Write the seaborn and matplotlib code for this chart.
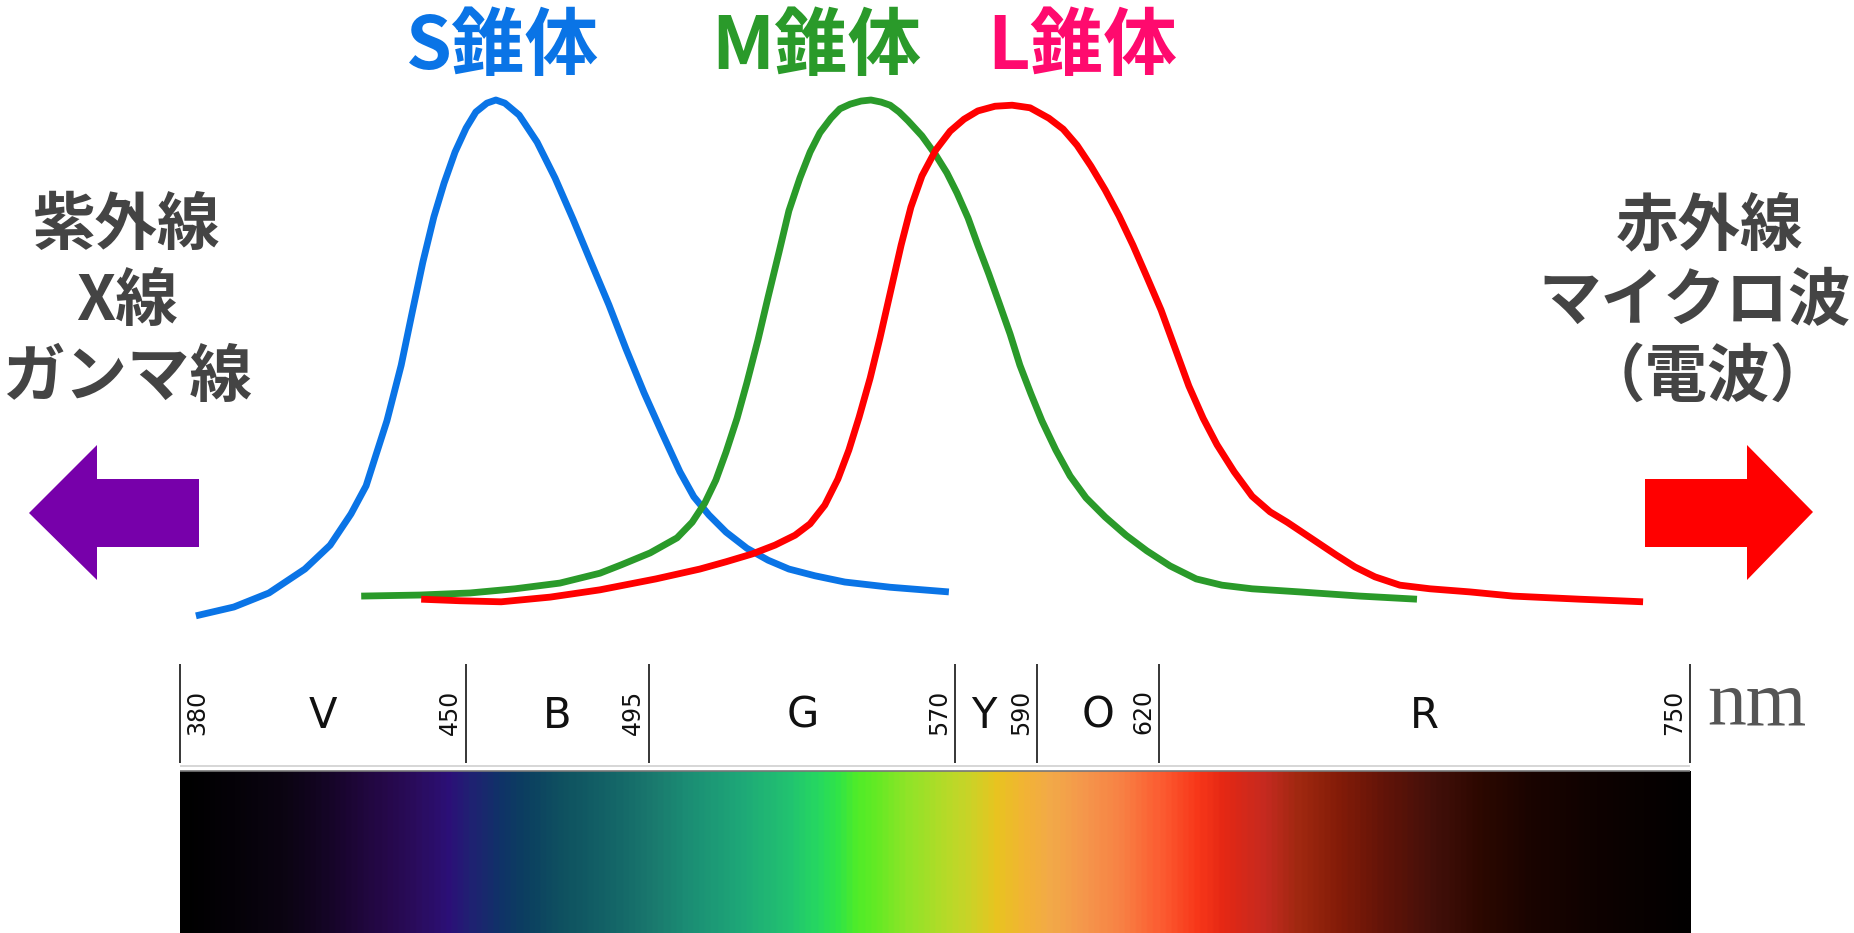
import numpy as np
import pandas as pd
import matplotlib
matplotlib.use("Agg")
import matplotlib.pyplot as plt
import matplotlib.transforms as mtransforms
from matplotlib.patches import Polygon
from matplotlib.colors import LinearSegmentedColormap
import seaborn as sns

# --- cone sensitivity curves (wavelength in nm, relative sensitivity) ---
S_NM = [383.9, 393.2, 401.8, 410.6, 416.8, 421.9, 425.6, 428.0, 430.7, 434.2,
        436.8, 439.5, 442.2, 444.7, 447.4, 450.1, 452.5, 455.2, 457.4, 459.6,
        463.1, 467.5, 471.9, 476.3, 480.7, 485.1, 489.3, 493.7, 498.1, 502.5,
        505.9, 509.6, 513.8, 518.9, 524.1, 529.2, 535.6, 542.9, 554.0, 568.4]
S_SENS = [0.008, 0.025, 0.052, 0.098, 0.144, 0.204, 0.258, 0.317, 0.383, 0.490,
          0.588, 0.688, 0.775, 0.840, 0.900, 0.946, 0.977, 0.994, 1.000, 0.994,
          0.971, 0.919, 0.850, 0.771, 0.688, 0.606, 0.521, 0.437, 0.360, 0.285,
          0.237, 0.202, 0.169, 0.138, 0.115, 0.098, 0.085, 0.073, 0.063, 0.054]

M_NM = [424.4, 438.8, 451.1, 462.1, 473.1, 482.9, 488.1, 495.2, 501.8, 505.5,
        508.6, 511.3, 513.8, 516.5, 518.9, 521.6, 524.1, 526.8, 529.2, 531.9,
        534.4, 536.8, 539.5, 541.7, 544.2, 546.9, 549.3, 551.8, 554.0, 556.2,
        558.4, 561.8, 565.2, 567.9, 570.4, 573.1, 575.5, 578.2, 580.7, 583.4,
        585.8, 588.5, 591.2, 594.6, 598.1, 602.0, 606.7, 611.8, 616.9, 622.6,
        629.0, 635.3, 642.7, 654.4, 669.1, 683.1]
M_SENS = [0.046, 0.048, 0.052, 0.060, 0.071, 0.090, 0.106, 0.129, 0.158, 0.188,
          0.225, 0.269, 0.323, 0.388, 0.456, 0.538, 0.621, 0.708, 0.787, 0.850,
          0.900, 0.937, 0.965, 0.983, 0.992, 0.998, 1.000, 0.996, 0.990, 0.977,
          0.960, 0.931, 0.894, 0.860, 0.821, 0.773, 0.721, 0.665, 0.610, 0.550,
          0.490, 0.435, 0.383, 0.327, 0.277, 0.235, 0.198, 0.163, 0.133, 0.104,
          0.079, 0.067, 0.060, 0.054, 0.046, 0.040]

L_NM = [439.1, 448.6, 458.7, 470.7, 482.9, 496.6, 507.4, 513.8, 520.2, 525.8,
        530.7, 534.4, 538.0, 541.2, 543.9, 546.4, 549.1, 551.5, 554.2, 556.7,
        559.1, 561.8, 565.2, 568.7, 572.1, 575.5, 579.7, 583.9, 588.3, 592.9,
        596.4, 599.8, 603.2, 606.7, 610.1, 613.5, 616.9, 620.4, 623.8, 627.2,
        630.7, 634.1, 638.3, 642.7, 647.1, 651.3, 657.4, 663.3, 667.9, 672.8,
        678.9, 686.3, 696.1, 706.6, 723.0, 738.5]
L_SENS = [0.040, 0.037, 0.035, 0.044, 0.058, 0.079, 0.098, 0.112, 0.127, 0.144,
          0.163, 0.185, 0.221, 0.271, 0.327, 0.390, 0.465, 0.542, 0.635, 0.721,
          0.794, 0.854, 0.904, 0.940, 0.963, 0.979, 0.988, 0.990, 0.985, 0.965,
          0.944, 0.913, 0.873, 0.827, 0.777, 0.721, 0.660, 0.596, 0.523, 0.450,
          0.388, 0.337, 0.285, 0.238, 0.208, 0.188, 0.156, 0.125, 0.102, 0.083,
          0.067, 0.060, 0.054, 0.046, 0.040, 0.035]

CONES = ["S錐体", "M錐体", "L錐体"]

# --- visible spectrum bands ---
BOUNDARIES = [380, 450, 495, 570, 590, 620, 750]
BAND_LABELS = ["V", "B", "G", "Y", "O", "R"]

SPECTRUM_NM = [380.0, 392.3, 404.5, 412.6, 420.9, 429.0, 437.1, 445.4, 451.0, 457.7,
               464.0, 473.8, 486.1, 495.9, 503.3, 517.2, 529.5, 536.1, 541.0, 545.9,
               550.8, 558.1, 566.2, 572.8, 580.2, 586.6, 593.2, 601.3, 611.1, 620.9,
               629.4, 635.6, 646.3, 654.4, 664.2, 674.8, 687.0, 699.3, 711.5, 727.9,
               750.0]
SPECTRUM_HEX = ["#000000", "#050208", "#0b0412", "#120520", "#1c0634", "#250848",
                "#2a0c5c", "#2c1078", "#1f2272", "#103268", "#0c3f60", "#0f5260",
                "#146668", "#1a7a6e", "#1b8c74", "#1ea878", "#22c470", "#26d860",
                "#30e448", "#50ec28", "#66ea24", "#90e428", "#b0dc28", "#c8d428",
                "#e8c420", "#f2b434", "#f2aa48", "#f5984c", "#f88044", "#fc5a30",
                "#f8381a", "#e62814", "#c42a20", "#a02810", "#841c08", "#641408",
                "#44100a", "#2c0800", "#1a0400", "#0e0200", "#020000"]

LEFT_LINES = ["紫外線", "X線", "ガンマ線"]
RIGHT_LINES = ["赤外線", "マイクロ波", "（電波）"]

# --- styling ---
CURVE_COLORS = {"S錐体": "#0a74e6", "M錐体": "#2a9a2a", "L錐体": "#ff0000"}
TITLE_COLORS = {"S錐体": "#0a74e6", "M錐体": "#2a9a2a", "L錐体": "#ff0a6e"}
SIDE_TEXT = "#444444"

W, H = 1854, 933
PX_PER_NM = 4.0811           # horizontal scale of the wavelength axis
X0_PX = 180                  # pixel column of 380 nm
BASE_PX, UNIT_PX = 620, 520  # pixel row of zero sensitivity, pixels per unit


def nm_of(px):
    return 380 + (px - X0_PX) / PX_PER_NM


def s_of(py):
    return (BASE_PX - py) / UNIT_PX


sns.set_theme(style="white")
plt.rcParams["font.family"] = ["Noto Sans CJK JP", "DejaVu Sans"]

fig = plt.figure(figsize=(W / 100, H / 100), dpi=100)
fig.patch.set_facecolor("white")
ax = fig.add_axes([0, 0, 1, 1])
ax.set_xlim(nm_of(0), nm_of(W))
ax.set_ylim(s_of(H), s_of(0))
ax.set_axis_off()

px = mtransforms.Affine2D().scale(1 / W, -1 / H).translate(0, 1) + fig.transFigure

# sensitivity curves
df = pd.concat([
    pd.DataFrame({"nm": S_NM, "sens": S_SENS, "cone": CONES[0]}),
    pd.DataFrame({"nm": M_NM, "sens": M_SENS, "cone": CONES[1]}),
    pd.DataFrame({"nm": L_NM, "sens": L_SENS, "cone": CONES[2]}),
])
sns.lineplot(data=df, x="nm", y="sens", hue="cone", palette=CURVE_COLORS,
             estimator=None, sort=False, linewidth=4.9, legend=False, ax=ax)
for line in ax.get_lines():
    line.set_solid_capstyle("butt")
    line.set_solid_joinstyle("round")
    line.set_antialiased(True)

# cone titles above each peak
title_x = {"S錐体": nm_of(503), "M錐体": nm_of(816), "L錐体": nm_of(1082)}
for cone in CONES:
    ax.text(title_x[cone], s_of(48), cone, color=TITLE_COLORS[cone],
            fontsize=53, fontweight="bold", ha="center", va="center")

# spectrum bar
cmap = LinearSegmentedColormap.from_list(
    "spectrum", [((n - 380) / 370, c) for n, c in zip(SPECTRUM_NM, SPECTRUM_HEX)])
grad = np.linspace(380, 750, 800)[None, :]
ax.imshow(grad, extent=[380, 750, s_of(H), s_of(771)], aspect="auto",
          cmap=cmap, vmin=380, vmax=750, interpolation="bilinear", zorder=1)
ax.hlines(s_of(771), 380, 750, color="#777777", linewidth=1.2, zorder=2)
ax.hlines(s_of(766), 380, 750, color="#d0d0d0", linewidth=1.2, zorder=2)

# band boundaries, wavelength numbers and band letters
ax.vlines(BOUNDARIES, s_of(763), s_of(664), color="black", linewidth=1.1)
for i, b in enumerate(BOUNDARIES):
    if i == 0:
        tr = mtransforms.offset_copy(ax.transData, fig, x=5, y=0, units="dots")
        ha = "left"
    else:
        tr = mtransforms.offset_copy(ax.transData, fig, x=-4, y=0, units="dots")
        ha = "right"
    ax.text(b, s_of(712), str(b), rotation=90, ha=ha, va="center",
            fontsize=17, color="#111111", family="DejaVu Sans", transform=tr)
for i, lab in enumerate(BAND_LABELS):
    mid = (BOUNDARIES[i] + BOUNDARIES[i + 1]) / 2
    if lab == "Y":
        mid -= 3
    ax.text(mid, s_of(716), lab, ha="center", va="center", fontsize=30,
            color="#111111", family="DejaVu Sans")
ax.text(nm_of(1757), s_of(706), "nm", ha="center", va="center", fontsize=56,
        color="#555555", family="Liberation Serif")

# side notes and arrows
for txt, yy in zip(LEFT_LINES, [226, 302, 378]):
    ax.text(127, yy, txt, transform=px, ha="center", va="center",
            fontsize=45, fontweight="bold", color=SIDE_TEXT)
for txt, (xx, yy) in zip(RIGHT_LINES, [(1710, 226), (1695, 302), (1708, 378)]):
    ax.text(xx, yy, txt, transform=px, ha="center", va="center",
            fontsize=45, fontweight="bold", color=SIDE_TEXT)

left_arrow = [(29, 513), (97, 445), (97, 479), (199, 479), (199, 547), (97, 547), (97, 580)]
right_arrow = [(1645, 479), (1747, 479), (1747, 445), (1813, 512), (1747, 580), (1747, 547), (1645, 547)]
ax.add_patch(Polygon(left_arrow, closed=True, transform=px, facecolor="#7700aa",
                     edgecolor="none"))
ax.add_patch(Polygon(right_arrow, closed=True, transform=px, facecolor="#ff0000",
                     edgecolor="none"))

fig.savefig("out.png", dpi=100, facecolor="white")
